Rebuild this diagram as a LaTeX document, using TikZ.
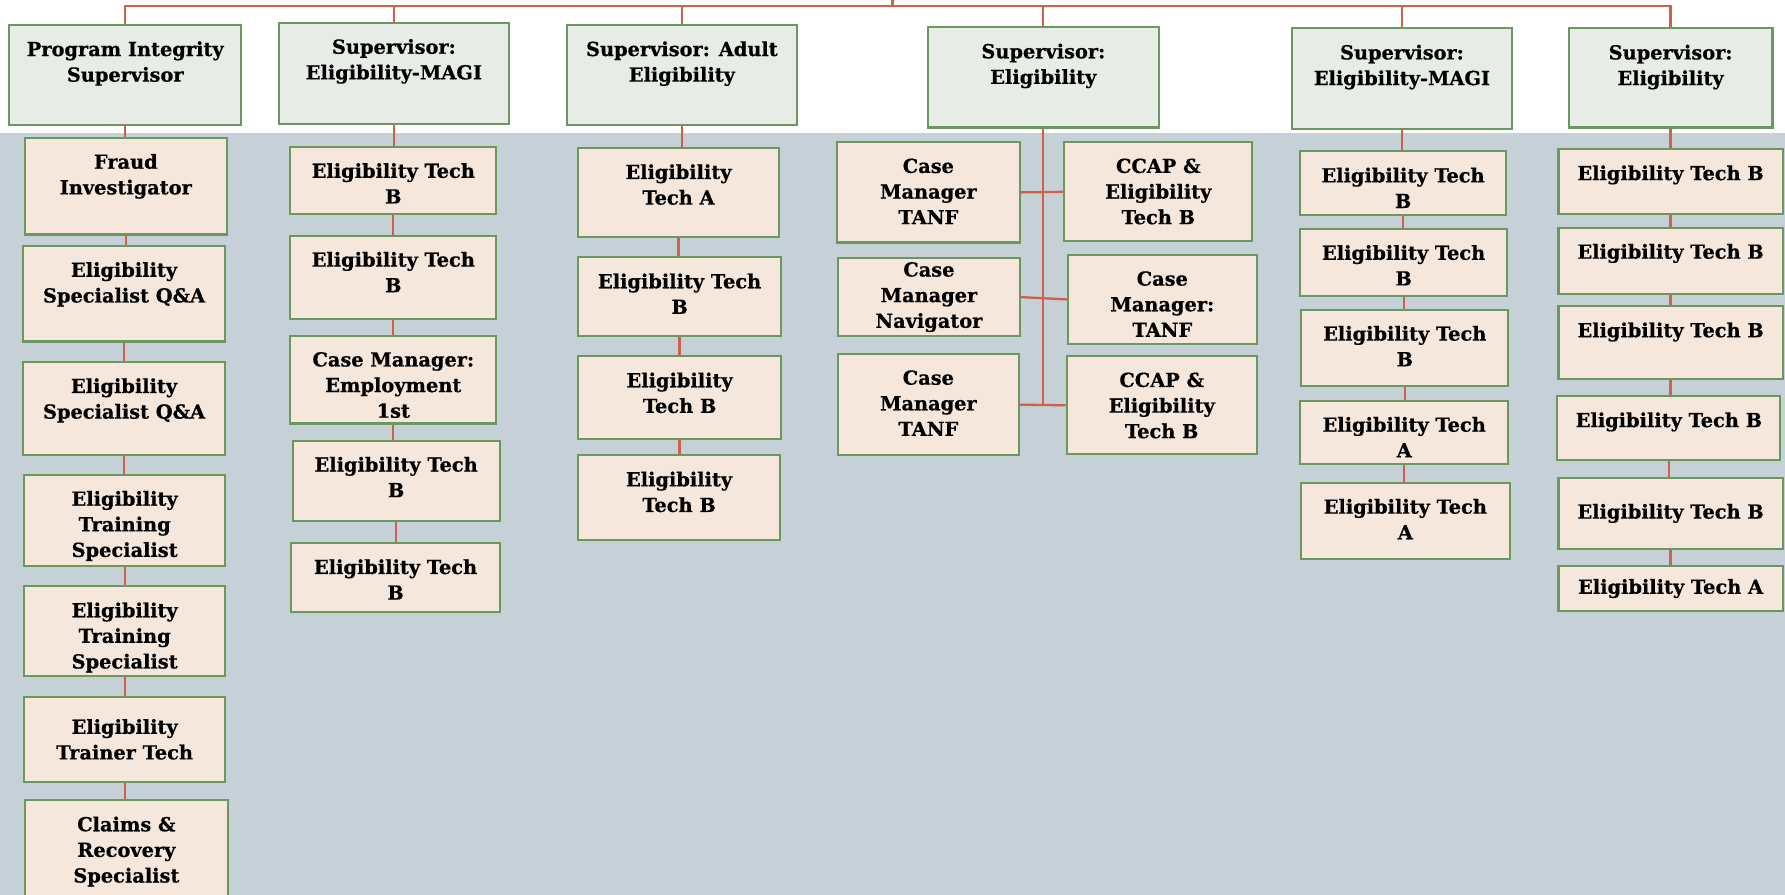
\documentclass[tikz,border=0pt]{standalone}
\usepackage{fontspec}
\newfontfamily\slabfont{DejaVu Serif}[BoldFeatures={FakeBold=0.6}]
\usetikzlibrary{calc}
\definecolor{bgblue}{HTML}{C5D0D7}
\definecolor{supfill}{HTML}{E8ECE7}
\definecolor{kidfill}{HTML}{F5E7DB}
\definecolor{edgegreen}{HTML}{6A9860}
\definecolor{linkred}{HTML}{D0604A}

\tikzset{
  box/.style={draw=edgegreen,line width=1.8pt,inner sep=0pt},
  sup/.style={box,fill=supfill},
  kid/.style={box,fill=kidfill},
  wh/.style 2 args={minimum width=#1pt,minimum height=#2pt},
  lbl/.style={align=center,font=\fontsize{17}{22.5}\selectfont\slabfont\bfseries},
  txt/.style={lbl,anchor=north,inner sep=0pt,yshift=-15pt},
  link/.style={draw=linkred,line width=2pt}
}

\begin{document}
\begin{tikzpicture}[x=1pt,y=-1pt]
    \clip (0,0) rectangle (1568,786);
    \fill[white] (0,0) rectangle (1568,786);
    \fill[bgblue] (0,117) rectangle (1568,786);

    % column 1
    \node[sup,wh={204}{88},label={[txt]north:{Program Integrity\\Supervisor}}] (s1) at (110,66) {};
    \node[kid,wh={177}{85},label={[txt]north:{Fraud\\Investigator}}] (a1) at (110.5,163.5) {};
    \node[kid,wh={178}{84},label={[txt]north:{Eligibility\\Specialist Q\&A}}] (a2) at (109,258) {};
    \node[kid,wh={178}{82},label={[txt]north:{Eligibility\\Specialist Q\&A}}] (a3) at (109,359) {};
    \node[kid,wh={177}{80},label={[txt]north:{Eligibility\\Training\\Specialist}}] (a4) at (109.5,457) {};
    \node[kid,wh={177}{79},label={[txt]north:{Eligibility\\Training\\Specialist}}] (a5) at (109.5,554.5) {};
    \node[kid,lbl,wh={177}{75}] (a6) at (109.5,649.5) {Eligibility\\Trainer Tech};
    \node[kid,wh={178}{102},label={[txt]north:{Claims \&\\Recovery\\Specialist}}] (a7) at (111,754) {};

    % column 2
    \node[sup,wh={202}{89},label={[txt]north:{Supervisor:\\Eligibility-MAGI}}] (s2) at (346,64.5) {};
    \node[kid,wh={181}{59},label={[txt]north:{Eligibility Tech\\B}}] (b1) at (345.5,158.5) {};
    \node[kid,wh={181}{73},label={[txt]north:{Eligibility Tech\\B}}] (b2) at (345.5,243.5) {};
    \node[kid,wh={181}{77},label={[txt]north:{Case Manager:\\Employment\\1st}}] (b3) at (345.5,333.5) {};
    \node[kid,wh={182}{71},label={[txt]north:{Eligibility Tech\\B}}] (b4) at (348,422.5) {};
    \node[kid,wh={183}{61},label={[txt]north:{Eligibility Tech\\B}}] (b5) at (347.5,507.5) {};

    % column 3
    \node[sup,wh={202}{88},label={[txt]north:{Supervisor: Adult\\Eligibility}}] (s3) at (599,66) {};
    \node[kid,wh={176}{78},label={[txt]north:{Eligibility\\Tech A}}] (c1) at (596,169) {};
    \node[kid,wh={178}{69},label={[txt]north:{Eligibility Tech\\B}}] (c2) at (597,260.5) {};
    \node[kid,wh={178}{73},label={[txt]north:{Eligibility\\Tech B}}] (c3) at (597,349.5) {};
    \node[kid,wh={177}{74},label={[txt]north:{Eligibility\\Tech B}}] (c4) at (596.5,437) {};

    % column 4
    \node[sup,wh={203}{88},label={[txt]north:{Supervisor:\\Eligibility}}] (s4) at (916.5,68) {};
    \node[kid,wh={161}{88},label={[txt]north:{Case\\Manager\\TANF}}] (d1) at (815.5,169) {};
    \node[kid,wh={165}{87},label={[txt]north:{CCAP \&\\Eligibility\\Tech B}}] (d2) at (1017.5,168.5) {};
    \node[kid,lbl,wh={160}{68}] (d3) at (816,261) {Case\\Manager\\Navigator};
    \node[kid,wh={166}{78},label={[txt]north:{Case\\Manager:\\TANF}}] (d4) at (1021,263) {};
    \node[kid,wh={159}{89},label={[txt]north:{Case\\Manager\\TANF}}] (d5) at (815.5,355.5) {};
    \node[kid,wh={167}{86},label={[txt]north:{CCAP \&\\Eligibility\\Tech B}}] (d6) at (1020.5,356) {};

    % column 5
    \node[sup,wh={193}{88},label={[txt]north:{Supervisor:\\Eligibility-MAGI}}] (e0) at (1231.5,69) {};
    \node[kid,wh={181}{56},label={[txt]north:{Eligibility Tech\\B}}] (e1) at (1232.5,161) {};
    \node[kid,wh={182}{59},label={[txt]north:{Eligibility Tech\\B}}] (e2) at (1233,230.5) {};
    \node[kid,wh={182}{67},label={[txt]north:{Eligibility Tech\\B}}] (e3) at (1234,305.5) {};
    \node[kid,wh={183}{56},label={[txt]north:{Eligibility Tech\\A}}] (e4) at (1233.5,380) {};
    \node[kid,wh={183}{67},label={[txt]north:{Eligibility Tech\\A}}] (e5) at (1234.5,457.5) {};

    % column 6
    \node[sup,wh={179}{87},label={[txt]north:{Supervisor:\\Eligibility}}] (f0) at (1467.5,68.5) {};
    \node[kid,wh={197}{57},label={[txt]north:{Eligibility Tech B}}] (f1) at (1467.5,159.5) {};
    \node[kid,wh={197}{58},label={[txt]north:{Eligibility Tech B}}] (f2) at (1467.5,229) {};
    \node[kid,wh={197}{64},label={[txt]north:{Eligibility Tech B}}] (f3) at (1467.5,301) {};
    \node[kid,wh={196}{56},label={[txt]north:{Eligibility Tech B}}] (f4) at (1466,376) {};
    \node[kid,lbl,wh={197}{62}] (f5) at (1467.5,451) {Eligibility Tech B};
    \node[kid,lbl,wh={197}{40}] (f6) at (1467.5,517) {Eligibility Tech A};

    % top bus
    \coordinate (root) at (784,0);
    \coordinate (bus) at (784,5);
    \draw[link] (root) -- (bus);
    \draw[link] (s1.north) |- (bus) -| (f0.north);
    \foreach \n in {s2,s3,s4,e0}
      \draw[link] (\n.north) -- (\n.north |- bus);

    % chains
    \foreach \u/\v in {s1/a1,a1/a2,a2/a3,a3/a4,a4/a5,a5/a6,a6/a7,
                       s2/b1,b1/b2,b2/b3,b3/b4,b4/b5,
                       s3/c1,c1/c2,c2/c3,c3/c4,
                       e0/e1,e1/e2,e2/e3,e3/e4,e4/e5,
                       f0/f1,f1/f2,f2/f3,f3/f4,f4/f5,f5/f6}
      \draw[link] (\u.south) -- (\u.south |- \v.north);

    % column 4 pairs
    \draw[link] (s4.south) -- (s4.south |- d5.east);
    \draw[link] (d1.east) -- (d2.west);
    \draw[link] (d3.east) -- (d4.west);
    \draw[link] (d5.east) -- (d6.west);
\end{tikzpicture}
\end{document}
